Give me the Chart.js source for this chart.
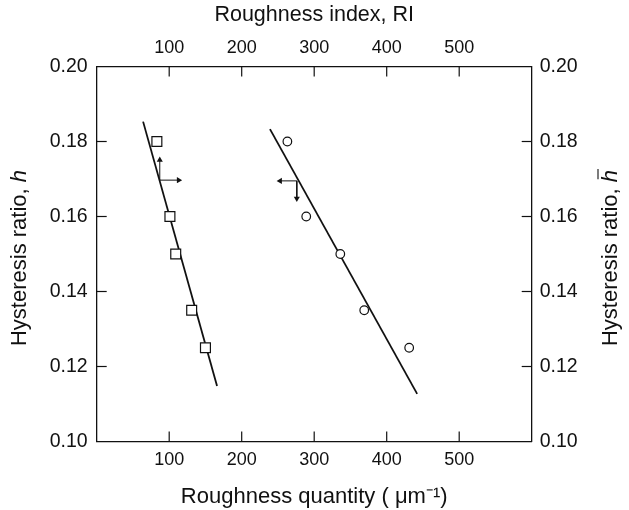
<!DOCTYPE html>
<html>
<head>
<meta charset="utf-8">
<script src="https://cdn.jsdelivr.net/npm/chart.js@4.4.1/dist/chart.umd.min.js"></script>
<style>
  html, body { margin: 0; padding: 0; background: #fff; }
</style>
</head>
<body>
<canvas id="chart" width="629" height="510"></canvas>
<script>
// tick labels
const xTicks = [100, 200, 300, 400, 500];
const yTicks = [0.10, 0.12, 0.14, 0.16, 0.18, 0.20];

// squares: roughness index RI (top) vs h-bar (right)
const riValues = [83, 101, 109, 131, 150];
const hBarValues = [0.180, 0.160, 0.150, 0.135, 0.125];
// circles: roughness quantity (bottom) vs h (left)
const rqValues = [263, 289, 336, 369, 431];
const hValues = [0.180, 0.160, 0.150, 0.135, 0.125];

// fitted straight lines, end points
const riLineX = [64, 166];
const riLineY = [0.1853, 0.1148];
const rqLineX = [239, 442];
const rqLineY = [0.1833, 0.1127];

// axis pointer arrows: [start, end]
const riArrowX = [87, 113];
const riArrowY = [0.1697, 0.1751];
const rqArrowX = [276, 253];
const rqArrowY = [0.1695, 0.1648];

const ink = '#111';
const fontFamily = '"Liberation Sans", Arial, sans-serif';
const xTickSize = 18;
const yTickSize = 19.5;
const sideTitleSize = 22;

function pts(xs, ys) {
    return xs.map((x, i) => ({ x: x, y: ys[i] }));
}

function arrow(data, xAxis, yAxis, rot) {
    return {
        type: 'line',
        data: data,
        xAxisID: xAxis,
        yAxisID: yAxis,
        borderColor: ink,
        borderWidth: 1,
        pointStyle: 'triangle',
        pointRadius: [0, 3.5],
        pointRotation: rot,
        pointBackgroundColor: ink,
        pointBorderColor: ink,
        pointBorderWidth: 0,
        showLine: true
    };
}

// ticks drawn inward from the frame
const innerTicks = {
    id: 'innerTicks',
    afterDatasetsDraw(chart) {
        const { ctx, chartArea: a, scales } = chart;
        ctx.save();
        ctx.strokeStyle = ink;
        ctx.lineWidth = 1.2;
        const seg = (x1, y1, x2, y2) => {
            ctx.beginPath(); ctx.moveTo(x1, y1); ctx.lineTo(x2, y2); ctx.stroke();
        };
        xTicks.forEach(v => {
            const pb = scales.x.getPixelForValue(v);
            seg(pb, a.bottom, pb, a.bottom - 10);
            const pt = scales.x2.getPixelForValue(v);
            seg(pt, a.top, pt, a.top + 10);
        });
        yTicks.slice(1, -1).forEach(v => {
            const pl = scales.y.getPixelForValue(v);
            seg(a.left, pl, a.left + 10, pl);
            const pr = scales.y2.getPixelForValue(v);
            seg(a.right, pr, a.right - 10, pr);
        });
        ctx.restore();
    }
};

// vertical titles, both reading bottom to top, with italic h
const sideTitles = {
    id: 'sideTitles',
    afterDraw(chart) {
        const { ctx, chartArea: a } = chart;
        const cy = (a.top + a.bottom) / 2 + 4;
        const reg = sideTitleSize + 'px ' + fontFamily;
        const ital = 'italic ' + sideTitleSize + 'px ' + fontFamily;
        const draw = (cx, bar) => {
            ctx.save();
            ctx.translate(cx, cy);
            ctx.rotate(-Math.PI / 2);
            ctx.fillStyle = ink;
            ctx.textBaseline = 'middle';
            const main = 'Hysteresis ratio, ';
            ctx.font = reg;
            const w1 = ctx.measureText(main).width;
            ctx.font = ital;
            const w2 = ctx.measureText('h').width;
            const x0 = -(w1 + w2) / 2;
            ctx.font = reg;
            ctx.fillText(main, x0, 0);
            ctx.font = ital;
            ctx.fillText('h', x0 + w1, 0);
            if (bar) {
                ctx.strokeStyle = ink;
                ctx.lineWidth = 1.1;
                ctx.beginPath();
                ctx.moveTo(x0 + w1 + 3, -13);
                ctx.lineTo(x0 + w1 + w2 + 1, -13);
                ctx.stroke();
            }
            ctx.restore();
        };
        draw(20, false);
        draw(611, true);
    }
};

const xTickFont = { family: fontFamily, size: xTickSize };
const yTickFont = { family: fontFamily, size: yTickSize };

new Chart(document.getElementById('chart'), {
    type: 'scatter',
    data: {
        datasets: [
            {
                data: pts(riValues, hBarValues),
                xAxisID: 'x2', yAxisID: 'y2',
                pointStyle: 'rect',
                pointRadius: 7,
                pointBorderWidth: 1.2,
                pointBorderColor: ink,
                pointBackgroundColor: '#fff'
            },
            {
                data: pts(rqValues, hValues),
                xAxisID: 'x', yAxisID: 'y',
                pointStyle: 'circle',
                pointRadius: 4.3,
                pointBorderWidth: 1.2,
                pointBorderColor: ink,
                pointBackgroundColor: '#fff'
            },
            {
                type: 'line', data: pts(riLineX, riLineY), xAxisID: 'x2', yAxisID: 'y2',
                borderColor: ink, borderWidth: 1.8, pointRadius: 0, showLine: true
            },
            {
                type: 'line', data: pts(rqLineX, rqLineY), xAxisID: 'x', yAxisID: 'y',
                borderColor: ink, borderWidth: 1.8, pointRadius: 0, showLine: true
            },
            arrow(pts([riArrowX[0], riArrowX[0]], [riArrowY[0], riArrowY[1]]), 'x2', 'y2', 0),
            arrow(pts([riArrowX[0], riArrowX[1]], [riArrowY[0], riArrowY[0]]), 'x2', 'y2', 90),
            arrow(pts([rqArrowX[0], rqArrowX[1]], [rqArrowY[0], rqArrowY[0]]), 'x', 'y', -90),
            arrow(pts([rqArrowX[0], rqArrowX[0]], [rqArrowY[0], rqArrowY[1]]), 'x', 'y', 180)
        ]
    },
    options: {
        responsive: false,
        animation: false,
        layout: { padding: 0 },
        plugins: { legend: { display: false }, tooltip: { enabled: false } },
        scales: {
            x: {
                type: 'linear', position: 'bottom', min: 0, max: 600,
                grid: { display: false, drawTicks: false },
                border: { display: true, color: ink, width: 1.3 },
                ticks: {
                    stepSize: 100, autoSkip: false, padding: 8, color: ink, font: xTickFont,
                    callback: v => xTicks.includes(v) ? String(v) : ''
                },
                title: {
                    display: true, text: 'Roughness quantity ( \u03bcm\u207b\u00b9)',
                    color: ink, font: { family: fontFamily, size: 22 }, padding: { top: 0, bottom: 0 }
                },
                afterFit: s => { s.height = 68.5; }
            },
            x2: {
                type: 'linear', position: 'top', min: 0, max: 600,
                grid: { display: false, drawTicks: false },
                border: { display: true, color: ink, width: 1.3 },
                ticks: {
                    stepSize: 100, autoSkip: false, padding: 8, color: ink, font: xTickFont,
                    callback: v => xTicks.includes(v) ? String(v) : ''
                },
                title: {
                    display: true, text: 'Roughness index, RI',
                    color: ink, font: { family: fontFamily, size: 21.5 }, padding: { top: 2, bottom: 0 }
                },
                afterFit: s => { s.height = 66.5; }
            },
            y: {
                type: 'linear', position: 'left', min: 0.10, max: 0.20,
                grid: { display: false, drawTicks: false },
                border: { display: true, color: ink, width: 1.3 },
                ticks: {
                    stepSize: 0.02, autoSkip: false, padding: 9, color: ink, font: yTickFont,
                    callback: v => v.toFixed(2)
                },
                afterFit: s => { s.width = 96.7; }
            },
            y2: {
                type: 'linear', position: 'right', min: 0.10, max: 0.20,
                grid: { display: false, drawTicks: false },
                border: { display: true, color: ink, width: 1.3 },
                ticks: {
                    stepSize: 0.02, autoSkip: false, padding: 8, color: ink, font: yTickFont,
                    callback: v => v.toFixed(2)
                },
                afterFit: s => { s.width = 97.3; }
            }
        }
    },
    plugins: [innerTicks, sideTitles]
});
</script>
</body>
</html>
